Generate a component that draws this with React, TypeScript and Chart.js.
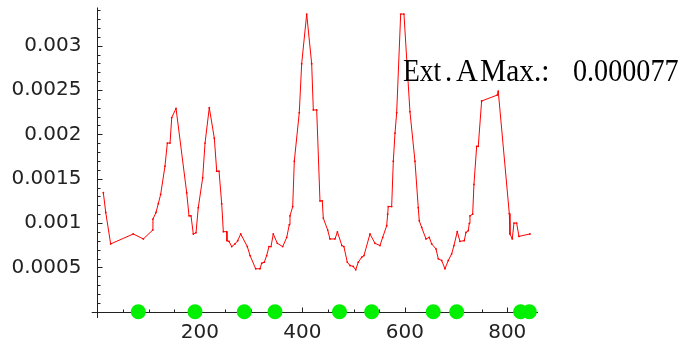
import React, { useEffect, useRef } from "react";
import { Chart, registerables } from "chart.js";

Chart.register(...registerables);

// Red series (x, y)
const lineX = [
  11.7, 16.4, 26, 70, 89.8, 108, 108.5, 114.5, 119, 123.6, 132, 136.6, 141.9, 145.2, 153.6,
  174.4, 178.9, 182.8, 187.3, 192.6, 197, 205.6, 210.2, 218.5, 228.3, 233, 237.5, 242.7,
  245.9, 252.5, 253, 257, 262.2, 268.7, 274, 279.8, 292.7, 298, 309, 317.5, 320.8, 325.9,
  330.5, 335, 338.9, 343.4, 351.2, 361.8, 369.6, 374.6, 376, 381.3, 384.4, 394.1, 398.8,
  408.6, 418.3, 421.5, 428.1, 434.5, 439, 441, 449.6, 454, 463.8, 468.5, 477.3, 481.2,
  487.8, 493, 499.5, 504.2, 509.3, 515.9, 520.4, 532.1, 541.9, 551.6, 556.9, 564.7, 566.6,
  567.8, 574.4, 577.6, 580.9, 584.2, 592, 598.4, 604.9, 610.1, 619.9, 626.3, 628.3, 633,
  641.4, 647.8, 652.5, 660.9, 665.4, 672, 678.4, 684.9, 691.5, 696, 702.4, 707.7, 716.1,
  719.4, 723.9, 725.9, 727.2, 732.5, 735, 740.3, 743.4, 750, 780.5, 782.4, 804, 805.3,
  809.8, 813.1, 818.3, 822.8, 844.3,
];
const lineY = [
  0.001342, 0.001119, 0.000765, 0.000877, 0.000821, 0.000921, 0.001045, 0.001119, 0.001219,
  0.001324, 0.001641, 0.001902, 0.001902, 0.002189, 0.002293, 0.001342, 0.001082, 0.001082,
  0.000877, 0.000892, 0.001174, 0.00151, 0.001902, 0.0023, 0.001957, 0.001585, 0.001585,
  0.001219, 0.000903, 0.000903, 0.000802, 0.000794, 0.000735, 0.000765, 0.000802, 0.000877,
  0.000735, 0.000634, 0.000485, 0.000485, 0.000548, 0.000559, 0.000634, 0.000735, 0.000735,
  0.000877, 0.000772, 0.000735, 0.000839, 0.000981, 0.001082, 0.001186, 0.001697, 0.002245,
  0.002796, 0.003356, 0.002796, 0.002275, 0.002275, 0.00125, 0.00125, 0.001056, 0.000921,
  0.000821, 0.000821, 0.0009, 0.000746, 0.000735, 0.000559, 0.000522, 0.000511, 0.000474,
  0.000559, 0.000615, 0.000634, 0.000877, 0.000772, 0.000746, 0.000839, 0.00097, 0.0011,
  0.001186, 0.001186, 0.001697, 0.002013, 0.002245, 0.003356, 0.003356, 0.002741, 0.002256,
  0.001697, 0.001174, 0.001026, 0.000951, 0.000821, 0.000839, 0.000765, 0.000709, 0.000597,
  0.000578, 0.000485, 0.000578, 0.000653, 0.000746, 0.000903, 0.000794, 0.000802, 0.000895,
  0.000914, 0.000996, 0.001082, 0.0011, 0.001436, 0.001865, 0.001865, 0.002376, 0.002443,
  0.002488, 0.001107, 0.000877, 0.000821, 0.001, 0.001, 0.00085, 0.000877,
];

// Green markers on the x axis
const markerX = [80, 190.6, 286.8, 346.7, 472.6, 535.4, 655.6, 701.3, 826.1, 843];

// Axis ticks
const xMajorTicks = [200, 400, 600, 800];
const xMinorStep = 50;
const xTickMax = 850;
const yMajorTicks = [0.0005, 0.001, 0.0015, 0.002, 0.0025, 0.003];
const yMajorLabels = ["0.0005", "0.001", "0.0015", "0.002", "0.0025", "0.003"];
const yMinorStep = 0.0001;
const yTickMax = 0.0034;

// Annotation text pieces
const noteParts = ["Ext", ".", "A", "Max.:", "0.000077"];

const mmaAxes = {
  id: "mmaAxes",
  beforeDatasetsDraw(chart: any) {
    const ctx = chart.ctx;
    const xs = chart.scales.x;
    const ys = chart.scales.y;
    const x0 = Math.round(xs.getPixelForValue(0)) + 0.5;
    const y0 = Math.round(ys.getPixelForValue(0)) + 0.5;
    ctx.save();
    ctx.strokeStyle = "#222";
    ctx.lineWidth = 1;
    ctx.beginPath();
    ctx.moveTo(xs.left, y0);
    ctx.lineTo(xs.right, y0);
    ctx.moveTo(x0, ys.top);
    ctx.lineTo(x0, ys.bottom);
    ctx.stroke();

    // y ticks (pointing right)
    ctx.beginPath();
    for (let v = yMinorStep; v <= yTickMax + 1e-9; v += yMinorStep) {
      const py = Math.round(ys.getPixelForValue(v)) + 0.5;
      const isMajor = yMajorTicks.some((m) => Math.abs(m - v) < 1e-8);
      ctx.moveTo(x0, py);
      ctx.lineTo(x0 + (isMajor ? 5 : 3), py);
    }
    // x ticks (pointing up)
    for (let v = xMinorStep; v <= xTickMax; v += xMinorStep) {
      const px = Math.round(xs.getPixelForValue(v)) + 0.5;
      const isMajor = xMajorTicks.includes(v);
      ctx.moveTo(px, y0);
      ctx.lineTo(px, y0 - (isMajor ? 5 : 3));
    }
    ctx.stroke();

    ctx.fillStyle = "#222";
    ctx.font = '20px "DejaVu Sans"';
    ctx.textAlign = "right";
    ctx.textBaseline = "middle";
    yMajorTicks.forEach((v, i) => {
      ctx.fillText(yMajorLabels[i], x0 - 16, ys.getPixelForValue(v));
    });
    ctx.textAlign = "center";
    ctx.textBaseline = "top";
    xMajorTicks.forEach((v) => {
      ctx.fillText(String(v), xs.getPixelForValue(v), y0 + 10);
    });
    ctx.restore();
  },
  afterDraw(chart: any) {
    const ctx = chart.ctx;
    ctx.save();
    ctx.fillStyle = "#000";
    ctx.font = '32px "Liberation Serif"';
    ctx.textBaseline = "alphabetic";
    const xs = [403, 445, 456, 480, 573];
    const sx = [0.86, 0.9, 0.95, 0.92, 0.88];
    noteParts.forEach((p, i) => {
      ctx.save();
      ctx.translate(xs[i], 81);
      ctx.scale(sx[i], 1);
      ctx.fillText(p, 0, 0);
      ctx.restore();
    });
    ctx.restore();
  },
};

export default function App() {
  const ref = useRef<HTMLCanvasElement | null>(null);
  useEffect(() => {
    if (!ref.current) return;
    const chart = new Chart(ref.current, {
      type: "scatter",
      data: {
        datasets: [
          {
            data: lineX.map((x, i) => ({ x, y: lineY[i] })),
            showLine: true,
            borderColor: "#ff0000",
            backgroundColor: "#ff0000",
            borderWidth: 1,
            pointRadius: 0.9,
            pointBorderWidth: 0,
            tension: 0,
          },
          {
            data: markerX.map((x) => ({ x, y: 0 })),
            showLine: false,
            backgroundColor: "#00f000",
            borderWidth: 0,
            pointRadius: 7.5,
            clip: false,
          } as any,
        ],
      },
      options: {
        animation: false,
        responsive: false,
        events: [],
        layout: { padding: { left: 91.7, right: 144, top: 5, bottom: 27 } },
        plugins: { legend: { display: false }, tooltip: { enabled: false } },
        scales: {
          x: { type: "linear", min: -11, max: 860, display: false },
          y: { type: "linear", min: -0.00007, max: 0.00343, display: false },
        },
      },
      plugins: [mmaAxes],
    });
    return () => chart.destroy();
  }, []);
  return (
    <div style={{ position: "fixed", left: 0, top: 0, width: 682, height: 345, background: "#fff" }}>
      <canvas ref={ref} width={682} height={345} />
    </div>
  );
}
